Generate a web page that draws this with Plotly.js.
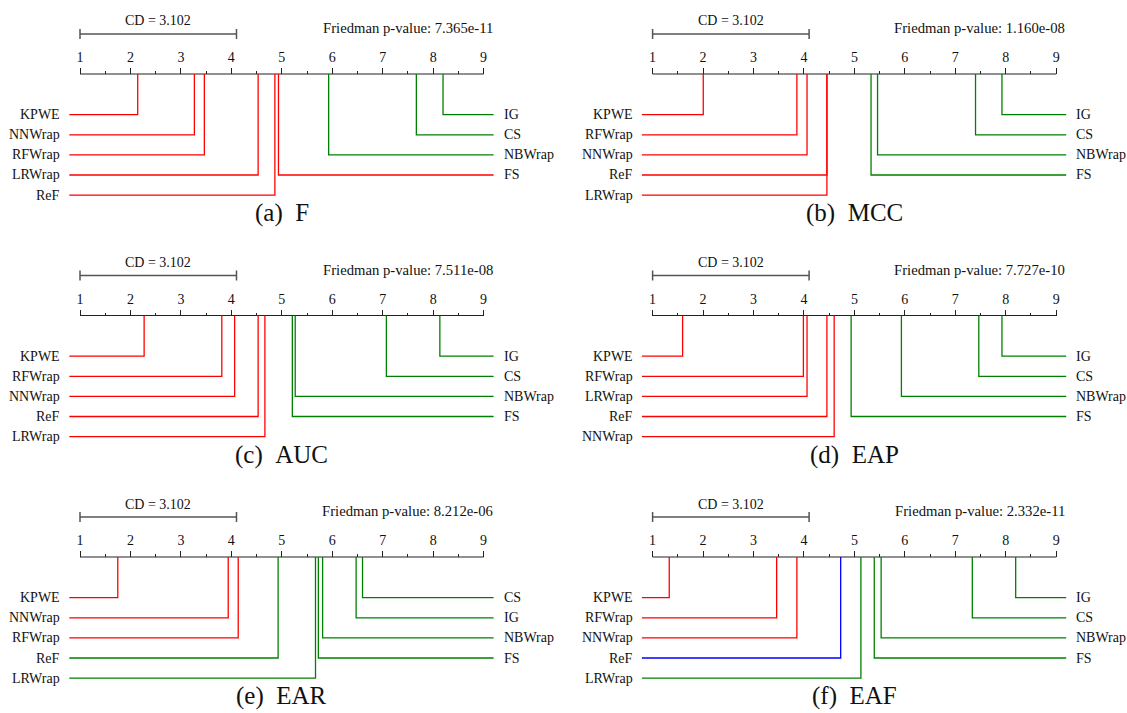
<!DOCTYPE html>
<html><head><meta charset="utf-8">
<script src="https://cdn.plot.ly/plotly-3.0.1.min.js"></script>
<style>html,body{margin:0;padding:0;background:#fff}#chart{width:1127px;height:713px}</style>
</head><body><div id="chart"></div>
<script>
// ---------- data ----------
const cdValue = 3.102;
const tickLabels = ['1','2','3','4','5','6','7','8','9'];
const panelLetters = ['(a)','(b)','(c)','(d)','(e)','(f)'];
const metricNames = ['F','MCC','AUC','EAP','EAR','EAF'];
const pValues = ['7.365e-11','1.160e-08','7.511e-08','7.727e-10','8.212e-06','2.332e-11'];

const namesF   = ['KPWE','NNWrap','RFWrap','LRWrap','ReF','FS','NBWrap','CS','IG'];
const ranksF   = [2.144, 3.267, 3.465, 4.531, 4.863, 4.934, 5.929, 7.667, 8.196];
const groupsF  = [0,0,0,0,0,0,1,1,1];

const namesMCC  = ['KPWE','RFWrap','NNWrap','ReF','LRWrap','FS','NBWrap','CS','IG'];
const ranksMCC  = [2.004, 3.860, 4.061, 4.455, 4.455, 5.330, 5.459, 7.401, 7.925];
const groupsMCC = [0,0,0,0,0,1,1,1,1];

const namesAUC  = ['KPWE','RFWrap','NNWrap','ReF','LRWrap','FS','NBWrap','CS','IG'];
const ranksAUC  = [2.271, 3.811, 4.065, 4.531, 4.665, 5.209, 5.266, 7.073, 8.133];
const groupsAUC = [0,0,0,0,0,1,1,1,1];

const namesEAP  = ['KPWE','RFWrap','LRWrap','ReF','NNWrap','FS','NBWrap','CS','IG'];
const ranksEAP  = [1.595, 3.989, 4.061, 4.455, 4.599, 4.935, 5.932, 7.466, 7.925];
const groupsEAP = [0,0,0,0,0,1,1,1,1];

const namesEAR  = ['KPWE','NNWrap','RFWrap','ReF','LRWrap','FS','NBWrap','IG','CS'];
const ranksEAR  = [1.749, 3.938, 4.136, 4.927, 5.668, 5.725, 5.809, 6.473, 6.600];
const groupsEAR = [0,0,0,1,1,1,1,1,1];

const namesEAF  = ['KPWE','RFWrap','NNWrap','ReF','LRWrap','FS','NBWrap','CS','IG'];
const ranksEAF  = [1.330, 3.459, 3.860, 4.728, 5.129, 5.394, 5.530, 7.337, 8.197];
const groupsEAF = [0,0,0,2,1,1,1,1,1];

// ---------- styling / layout ----------
const W = 1127, H = 713;
const S = 50.45;                 // px per rank unit
const X0 = [80, 652.6];          // pixel of rank 1 per column
const AXY = [74, 315.5, 557];    // pixel y of axis line per row
const TOP = 60, BOT = 150;
const FONT = 'Liberation Serif, Times New Roman, Times, serif';
const groupColors = ['#ff0000', '#008000', '#0000ff'];
const LW = 1.3;

const panels = [
  [namesF, ranksF, groupsF], [namesMCC, ranksMCC, groupsMCC],
  [namesAUC, ranksAUC, groupsAUC], [namesEAP, ranksEAP, groupsEAP],
  [namesEAR, ranksEAR, groupsEAR], [namesEAF, ranksEAF, groupsEAF]
];

const traces = [];
const annotations = [];
const layout = {
  width: W, height: H, margin: {l:0, r:0, t:0, b:0},
  paper_bgcolor: '#fff', plot_bgcolor: 'rgba(0,0,0,0)',
  showlegend: false, font: {family: FONT, size: 14, color: '#111'},
  annotations: annotations
};

const majorVals = tickLabels.map(Number);
const minorVals = majorVals.slice(0, -1).map(v => v + 0.5);
const leftEdge = 1 - 10.7 / S, rightEdge = 9 + 10 / S;
const rowY = k => -40.7 - k * 20.1;

panels.forEach(([names, ranks, groups], i) => {
  const c = i % 2, r = Math.floor(i / 2);
  const ax = i === 0 ? '' : String(i + 1);
  const xa = 'x' + ax, ya = 'y' + ax;
  layout['xaxis' + ax] = {
    domain: [(X0[c] - 0.5 * S) / W, (X0[c] + 8.5 * S) / W],
    range: [0.5, 9.5], anchor: 'free', position: 1 - AXY[r] / H, side: 'top',
    tickmode: 'array', tickvals: majorVals, ticktext: tickLabels,
    ticks: 'outside', ticklen: 6, tickwidth: 1, tickcolor: '#222',
    tickfont: {family: FONT, size: 14, color: '#111'},
    minor: {tickmode: 'array', tickvals: minorVals, ticks: 'outside', ticklen: 3, tickwidth: 1, tickcolor: '#222', showgrid: false},
    showline: false, showgrid: false, zeroline: false, fixedrange: true
  };
  layout['yaxis' + ax] = {
    domain: [1 - (AXY[r] + BOT) / H, 1 - (AXY[r] - TOP) / H],
    range: [-BOT, TOP], anchor: xa, visible: false, fixedrange: true
  };
  // axis line
  traces.push({type: 'scatter', mode: 'lines', xaxis: xa, yaxis: ya, hoverinfo: 'skip',
    x: [majorVals[0], majorVals[majorVals.length - 1]], y: [0, 0],
    line: {color: '#222', width: 1.2}});
  // CD bar
  const cdY = 40, cap = 5;
  traces.push({type: 'scatter', mode: 'lines', xaxis: xa, yaxis: ya, hoverinfo: 'skip',
    x: [1, 1, null, 1, 1 + cdValue, null, 1 + cdValue, 1 + cdValue],
    y: [cdY + cap, cdY - cap, null, cdY, cdY, null, cdY + cap, cdY - cap],
    line: {color: '#555', width: 1.5}});
  annotations.push({xref: xa, yref: ya, x: 1 + cdValue / 2, y: 53, text: 'CD = ' + cdValue.toFixed(3),
    showarrow: false, xanchor: 'center', yanchor: 'middle', font: {family: FONT, size: 14, color: '#111'}});
  annotations.push({xref: xa, yref: ya, x: 9 + 11 / S, y: 46, text: 'Friedman p-value: ' + pValues[i],
    showarrow: false, xanchor: 'right', yanchor: 'middle', font: {family: FONT, size: 14.7, color: '#111'}});
  annotations.push({xref: xa, yref: ya, x: 5, y: -139, text: panelLetters[i] + '\u00a0\u00a0' + metricNames[i],
    showarrow: false, xanchor: 'center', yanchor: 'middle', font: {family: FONT, size: 25, color: '#111'}});

  // order methods by rank
  const idx = ranks.map((v, k) => k).sort((a, b) => ranks[a] - ranks[b]);
  const nLeft = Math.ceil(idx.length / 2);
  const left = idx.slice(0, nLeft);
  const right = idx.slice(nLeft).reverse();
  left.forEach((k, row) => {
    const yy = rowY(row);
    traces.push({type: 'scatter', mode: 'lines', xaxis: xa, yaxis: ya, hoverinfo: 'skip',
      x: [ranks[k], ranks[k], leftEdge], y: [0, yy, yy],
      line: {color: groupColors[groups[k]], width: LW}});
    annotations.push({xref: xa, yref: ya, x: 1 - 18 / S, y: yy, text: names[k], showarrow: false,
      xanchor: 'right', yanchor: 'middle', font: {family: FONT, size: 14, color: '#111'}});
  });
  right.forEach((k, row) => {
    const yy = rowY(row);
    traces.push({type: 'scatter', mode: 'lines', xaxis: xa, yaxis: ya, hoverinfo: 'skip',
      x: [ranks[k], ranks[k], rightEdge], y: [0, yy, yy],
      line: {color: groupColors[groups[k]], width: LW}});
    annotations.push({xref: xa, yref: ya, x: 9 + 18 / S, y: yy, text: names[k], showarrow: false,
      xanchor: 'left', yanchor: 'middle', font: {family: FONT, size: 14, color: '#111'}});
  });
});

Plotly.newPlot('chart', traces, layout, {staticPlot: true, displayModeBar: false});
</script></body></html>
